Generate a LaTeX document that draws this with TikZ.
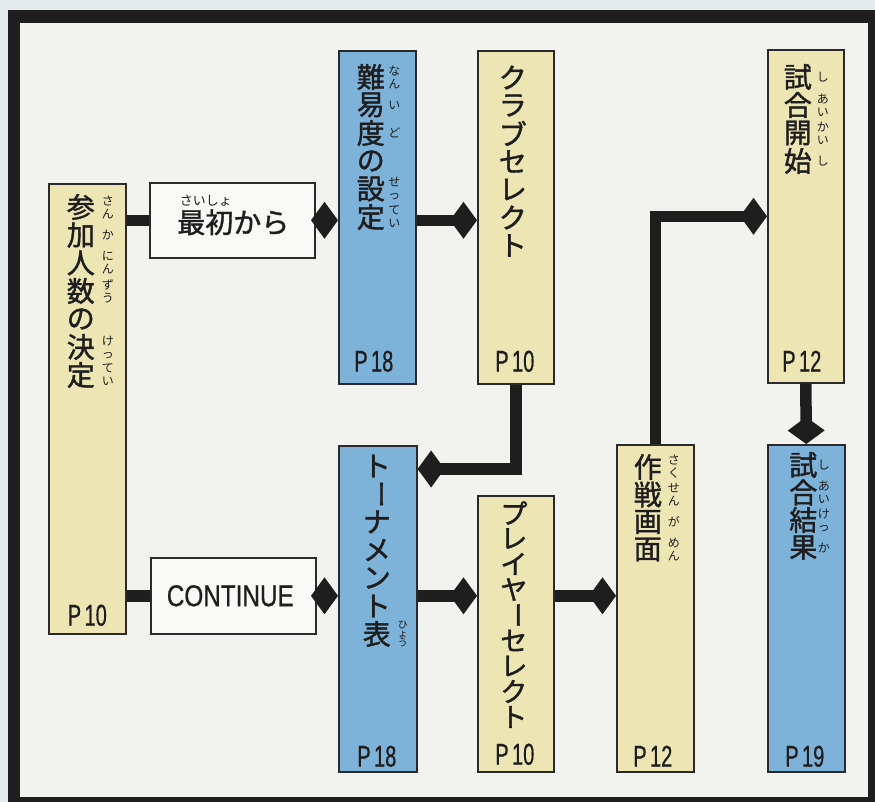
\documentclass[tikz,border=0pt]{standalone}
\usepackage{fontspec}
\usepackage{graphicx}
\newfontfamily\jp[FakeBold=1.4]{Noto Sans CJK JP}
\newfontfamily\jpr{Noto Sans CJK JP}
\newfontfamily\lat[FakeBold=0.8]{Liberation Sans}
\usetikzlibrary{arrows.meta}
\definecolor{bgout}{HTML}{E4E9EC}
\definecolor{bgin}{HTML}{F2F2EF}
\definecolor{yel}{HTML}{EDE6B4}
\definecolor{blu}{HTML}{7EB3D9}
\definecolor{wht}{HTML}{F8F8F6}
\definecolor{edge}{HTML}{2A2A2A}
\definecolor{ink}{HTML}{1E1E1E}
\newcommand\pgl[1]{\scalebox{0.67}[1]{P\,#1}}
\newcommand\vchoon{\rotatebox[origin=c]{-90}{ー}}
\begin{document}
\begin{tikzpicture}[x=1pt,y=-1pt,
  box/.style={draw=edge, line width=1.6pt, inner sep=0pt, anchor=north west},
  ybox/.style={box, fill=yel},
  bbox/.style={box, fill=blu},
  wbox/.style={box, fill=wht},
  mainch/.style={font=\jp\fontsize{28}{28}\selectfont, text=ink, inner sep=0pt},
  rubych/.style={font=\jpr\fontsize{12}{13}\selectfont, text=ink, inner sep=0pt, align=center},
  plabel/.style={font=\lat\fontsize{30}{30}\selectfont, text=ink, inner sep=0pt, anchor=base},
  conn/.style={line width=11.5pt, draw=ink},
  arr/.style={conn, -{Diamond[length=27pt,width=37pt]}},
]
\useasboundingbox (0,0) rectangle (875,802);
\clip (0,0) rectangle (875,802);
\fill[bgout] (0,0) rectangle (875,802);
\fill[bgin] (14,16.5) rectangle (874,803);
\draw[line width=12.5pt, draw=ink] (14,16.5) rectangle (874,803);

% boxes
\node[ybox, minimum width=77pt, minimum height=450pt] (sanka) at (48,183) {};
\node[wbox, minimum width=165pt, minimum height=75pt] (saisho) at (149,182) {};
\node[wbox, minimum width=165pt, minimum height=76pt] (cont) at (150,557) {};
\node[bbox, minimum width=77pt, minimum height=333pt] (nanido) at (338,50) {};
\node[ybox, minimum width=76pt, minimum height=333pt] (club) at (477,50) {};
\node[ybox, minimum width=76pt, minimum height=333pt] (shiai) at (767,49) {};
\node[bbox, minimum width=78pt, minimum height=326pt] (tour) at (338,445) {};
\node[ybox, minimum width=76pt, minimum height=276pt] (player) at (477,495) {};
\node[ybox, minimum width=77pt, minimum height=327pt] (sakusen) at (616,444) {};
\node[bbox, minimum width=77pt, minimum height=327pt] (kekka) at (767,444) {};

% connectors
\draw[conn] (saisho.west) -- (saisho.west -| sanka.east);
\draw[conn] (cont.west) -- (cont.west -| sanka.east);
\draw[arr] (saisho.east) -- (saisho.east -| nanido.west);
\draw[arr] (nanido.east |- saisho.east) -- (club.west |- saisho.east);
\draw[arr] (club.south) |- ([yshift=-24pt]tour.north east);
\draw[arr] (cont.east) -- (cont.east -| tour.west);
\draw[arr] (tour.east |- cont.east) -- (player.west |- cont.east);
\draw[arr] (player.east |- cont.east) -- (sakusen.west |- cont.east);
\draw[arr] (sakusen.north) |- (shiai.west);
\draw[arr] (shiai.south) -- (kekka.north);

% vertical texts
\foreach \c/\r [count=\i from 0] in {参/{さ\\ん},加/か,人/{に\\ん},数/{ず\\う},の/{},決/{け\\っ},定/{て\\い}} {
  \node[mainch] at ([xshift=-6.5pt, yshift={-24pt-28pt*\i}]sanka.north) {\c};
  \node[rubych] at ([xshift=20.5pt, yshift={-24pt-28pt*\i}]sanka.north) {\r};
}
\foreach \c/\r [count=\i from 0] in {難/{な\\ん},易/い,度/ど,の/{},設/{せ\\っ},定/{て\\い}} {
  \node[mainch] at ([xshift=-6.5pt, yshift={-27pt-28pt*\i}]nanido.north) {\c};
  \node[rubych] at ([xshift=17pt, yshift={-27pt-28pt*\i}]nanido.north) {\r};
}
\foreach \c [count=\i from 0] in {ク,ラ,ブ,セ,レ,ク,ト} {
  \node[mainch] at ([xshift=-3pt, yshift={-27.5pt-28pt*\i}]club.north) {\c};
}
\foreach \c/\r [count=\i from 0] in {試/し,合/{あ\\い},開/{か\\い},始/し} {
  \node[mainch] at ([xshift=-8pt, yshift={-28pt-28pt*\i}]shiai.north) {\c};
  \node[rubych] at ([xshift=17pt, yshift={-28pt-28pt*\i}]shiai.north) {\r};
}
\foreach \c [count=\i from 0] in {ト,\vchoon,ナ,メ,ン,ト,表} {
  \node[mainch] at ([xshift=-1pt, yshift={-21pt-28pt*\i}]tour.north) {\c};
}
\node[rubych, font=\jpr\fontsize{10}{9}\selectfont] at ([xshift=25pt, yshift=-189pt]tour.north) {ひ\\ょ\\う};
\foreach \c [count=\i from 0] in {プ,レ,イ,ヤ,\vchoon,セ,レ,ク,ト} {
  \node[mainch, font=\jp\fontsize{27}{27}\selectfont] at ([xshift=-2pt, yshift={-18pt-25.5pt*\i}]player.north) {\c};
}
\foreach \c/\r [count=\i from 0] in {作/{さ\\く},戦/{せ\\ん},画/が,面/{め\\ん}} {
  \node[mainch] at ([xshift=-7.5pt, yshift={-23pt-27.5pt*\i}]sakusen.north) {\c};
  \node[rubych] at ([xshift=18.5pt, yshift={-23pt-27.5pt*\i}]sakusen.north) {\r};
}
\foreach \c/\r [count=\i from 0] in {試/し,合/{あ\\い},結/{け\\っ},果/か} {
  \node[mainch] at ([xshift=-3pt, yshift={-21pt-27.5pt*\i}]kekka.north) {\c};
  \node[rubych] at ([xshift=17.5pt, yshift={-21pt-27.5pt*\i}]kekka.north) {\r};
}

% horizontal texts
\node[mainch] at ([xshift=1pt, yshift=-2pt]saisho.center) {最初から};
\node[rubych, font=\jpr\fontsize{13}{13}\selectfont] at ([xshift=-26.5pt, yshift=19.5pt]saisho.center) {さいしょ};
\node[font=\lat\fontsize{30}{30}\selectfont, text=ink, inner sep=0pt] at ([xshift=-3pt]cont.center) {\scalebox{0.81}[1]{CONTINUE}};

% page labels
\node[plabel] at ([xshift=0pt, yshift=9pt]sanka.south) {\pgl{10}};
\node[plabel] at ([xshift=-3.5pt, yshift=13pt]nanido.south) {\pgl{18}};
\node[plabel] at ([xshift=-1pt, yshift=13pt]club.south) {\pgl{10}};
\node[plabel] at ([xshift=-4pt, yshift=12pt]shiai.south) {\pgl{12}};
\node[plabel] at ([xshift=-1pt, yshift=6pt]tour.south) {\pgl{18}};
\node[plabel] at ([xshift=-1pt, yshift=8pt]player.south) {\pgl{10}};
\node[plabel] at ([xshift=-2.5pt, yshift=6pt]sakusen.south) {\pgl{12}};
\node[plabel] at ([xshift=-1.5pt, yshift=6pt]kekka.south) {\pgl{19}};
\end{tikzpicture}
\end{document}
